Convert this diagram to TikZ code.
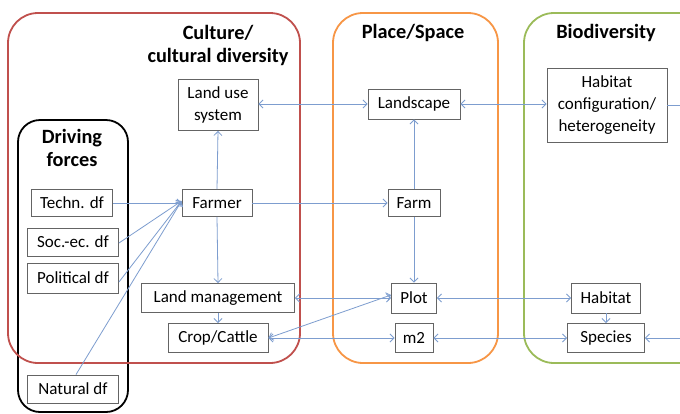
\documentclass[tikz,border=0pt]{standalone}
\usepackage{fontspec}
\setmainfont{Carlito}
\usetikzlibrary{arrows.meta}
\definecolor{conn}{RGB}{125,157,207}
\definecolor{redc}{RGB}{192,80,77}
\definecolor{orangec}{RGB}{247,150,70}
\definecolor{greenc}{RGB}{155,187,89}
\definecolor{boxc}{RGB}{100,100,100}
\tikzset{
  stepbox/.style={draw=boxc, line width=0.9pt, fill=white, inner sep=0pt, align=center,
    font=\fontsize{17}{22}\selectfont},
  grp/.style={line width=1.8pt, rounded corners=30pt},
  ttl/.style={align=center, font=\bfseries\fontsize{20.3}{23}\selectfont},
  con/.style={draw=conn, line width=0.8pt},
  tip/.style={con, -{Straight Barb[length=4pt,width=8pt]}},
  dtip/.style={con, {Straight Barb[length=4pt,width=8pt]}-{Straight Barb[length=4pt,width=8pt]}}
}
\begin{document}
\begin{tikzpicture}[x=1pt,y=-1pt]
\useasboundingbox (0,0) rectangle (680,413);
\fill[white] (0,0) rectangle (680,413);
% group frames
\draw[grp, draw=black, rounded corners=22pt] (18,120) rectangle (128,412);
\draw[grp, draw=redc] (8,13) rectangle (300,363);
\draw[grp, draw=orangec] (333,13) rectangle (498,363);
\draw[grp, draw=greenc] (524,13) rectangle (720,363);
% titles
\node[ttl] (tculture) at (218,45) {Culture/\\cultural diversity};
\node[ttl] (tdriving) at (72,148) {Driving\\forces};
\node[ttl] (tplace) at (413,33) {Place/Space};
\node[ttl] (tbio) at (606,33) {Biodiversity};
% nodes
\node[stepbox, minimum width=80pt, minimum height=51pt] (landuse) at (218,105) {Land use\\system};
\node[stepbox, minimum width=92pt, minimum height=30pt] (landscape) at (414,104) {Landscape};
\node[stepbox, minimum width=120pt, minimum height=74pt] (habconf) at (607,105) {Habitat\\configuration/\\heterogeneity};
\node[stepbox, minimum width=70pt, minimum height=27pt] (farmer) at (217,203) {Farmer};
\node[stepbox, minimum width=81pt, minimum height=27pt] (techn) at (72,203) {Techn. df};
\node[stepbox, minimum width=91pt, minimum height=28pt] (soc) at (73,242) {Soc.-ec. df};
\node[stepbox, minimum width=91pt, minimum height=30pt] (pol) at (73,278) {Political df};
\node[stepbox, minimum width=91pt, minimum height=28pt] (nat) at (73,389) {Natural df};
\node[stepbox, minimum width=153pt, minimum height=29pt] (landmgmt) at (218,298) {Land management};
\node[stepbox, minimum width=100pt, minimum height=29pt] (crop) at (218,338) {Crop/Cattle};
\node[stepbox, minimum width=52pt, minimum height=27pt] (farm) at (414,203) {Farm};
\node[stepbox, minimum width=45pt, minimum height=30pt] (plot) at (414,298) {Plot};
\node[stepbox, minimum width=38pt, minimum height=29pt] (m2) at (414,338) {m2};
\node[stepbox, minimum width=69pt, minimum height=30pt] (habitat) at (606,298) {Habitat};
\node[stepbox, minimum width=77pt, minimum height=29pt] (species) at (606,338) {Species};
\coordinate (rightA) at (700,105);
\coordinate (rightB) at (700,338);
% connectors
\draw[tip] (techn.east) -- (farmer.west);
\draw[tip] ([yshift=-1pt]soc.east) -- ([yshift=2pt]farmer.west);
\draw[tip] ([yshift=-4pt]pol.east) -- ([yshift=2pt]farmer.west);
\draw[tip] ([xshift=3pt]nat.north) -- ([yshift=2pt]farmer.west);
\draw[tip] (farmer.north) -- (landuse.south);
\draw[tip] (farmer.south) -- (landmgmt.north);
\draw[tip] (landmgmt.south) -- (crop.north);
\draw[tip] (farmer.east) -- (farm.west);
\draw[dtip] (landuse.east |- landscape.west) -- (landscape.west);
\draw[dtip] (landscape.east) -- (landscape.east -| habconf.west);
\draw[con] (habconf.east) -- (rightA);
\draw[tip] (farm.north) -- (landscape.south);
\draw[tip] (farm.south) -- (plot.north);
\draw[dtip] (landmgmt.east) -- (plot.west);
\draw[dtip] (crop.east) -- ([yshift=3pt]plot.west);
\draw[dtip] (crop.east) -- (m2.west);
\draw[dtip] (m2.east) -- (species.west);
\draw[dtip] (plot.east) -- (habitat.west);
\draw[tip] (habitat.south) -- (species.north);
\draw[tip] (rightB) -- (species.east);
\end{tikzpicture}
\end{document}
